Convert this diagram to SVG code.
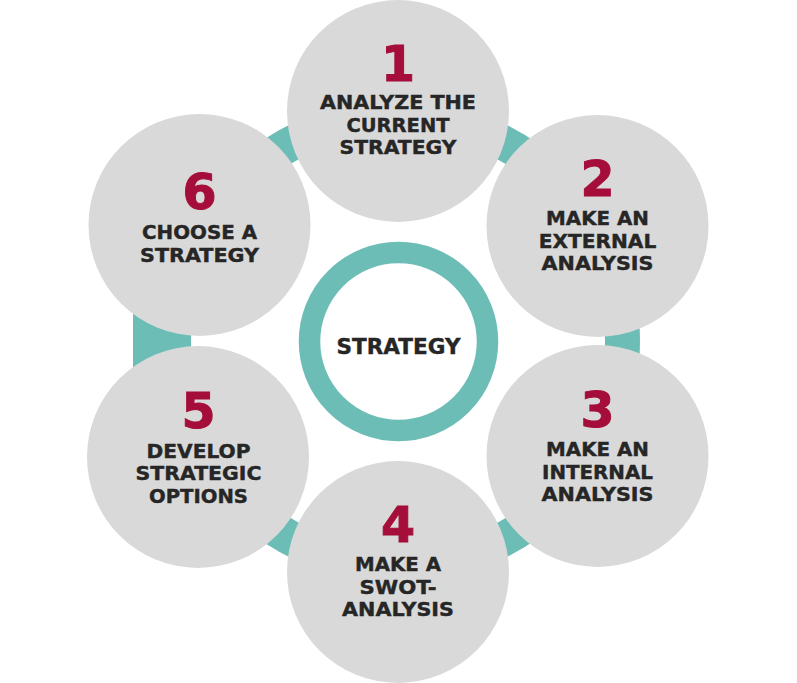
<svg xmlns="http://www.w3.org/2000/svg" width="797" height="683" viewBox="0 0 797 683">
<style>
.node{fill:#d9d9d9}
.num{font-family:"DejaVu Sans","Liberation Sans",sans-serif;font-weight:bold;font-size:49px;fill:#a50d3a;stroke:#a50d3a;stroke-width:1;text-anchor:middle}
.lbl{font-family:"DejaVu Sans","Liberation Sans",sans-serif;font-weight:bold;font-size:19px;fill:#262626;stroke:#262626;stroke-width:0.4;text-anchor:middle}
.ring{fill:none;stroke:#6dbdb7}
</style>
<rect width="797" height="683" fill="#ffffff"/>
<g id="connectors">
<circle class="ring" cx="398" cy="341" r="224.5" stroke-width="35"/>
<rect x="133" y="300" width="38" height="85" fill="#6dbdb7"/>
</g>
<g id="n1">
<circle class="node" cx="398" cy="111" r="111"/>
<text class="num" x="398" y="81">1</text>
<text class="lbl" x="398" y="109" textLength="156" lengthAdjust="spacingAndGlyphs">ANALYZE THE</text>
<text class="lbl" x="398" y="131.5" textLength="103" lengthAdjust="spacingAndGlyphs">CURRENT</text>
<text class="lbl" x="398" y="154" textLength="117" lengthAdjust="spacingAndGlyphs">STRATEGY</text>
</g>
<g id="n2">
<circle class="node" cx="597.5" cy="226" r="111"/>
<text class="num" x="597.5" y="196">2</text>
<text class="lbl" x="597.5" y="225" textLength="103" lengthAdjust="spacingAndGlyphs">MAKE AN</text>
<text class="lbl" x="597.5" y="247.5" textLength="117.5" lengthAdjust="spacingAndGlyphs">EXTERNAL</text>
<text class="lbl" x="597.5" y="270" textLength="112" lengthAdjust="spacingAndGlyphs">ANALYSIS</text>
</g>
<g id="n3">
<circle class="node" cx="597.5" cy="456" r="111"/>
<text class="num" x="597.5" y="427">3</text>
<text class="lbl" x="597.5" y="456" textLength="103" lengthAdjust="spacingAndGlyphs">MAKE AN</text>
<text class="lbl" x="597.5" y="478.5" textLength="111" lengthAdjust="spacingAndGlyphs">INTERNAL</text>
<text class="lbl" x="597.5" y="501" textLength="112" lengthAdjust="spacingAndGlyphs">ANALYSIS</text>
</g>
<g id="n4">
<circle class="node" cx="398" cy="572" r="111"/>
<text class="num" x="398" y="542">4</text>
<text class="lbl" x="398" y="571" textLength="86" lengthAdjust="spacingAndGlyphs">MAKE A</text>
<text class="lbl" x="398" y="593.5" textLength="77" lengthAdjust="spacingAndGlyphs">SWOT-</text>
<text class="lbl" x="398" y="616" textLength="112" lengthAdjust="spacingAndGlyphs">ANALYSIS</text>
</g>
<g id="n5">
<circle class="node" cx="198" cy="457" r="111"/>
<text class="num" x="198.5" y="428">5</text>
<text class="lbl" x="198.5" y="457.5" textLength="104" lengthAdjust="spacingAndGlyphs">DEVELOP</text>
<text class="lbl" x="198.5" y="480" textLength="126" lengthAdjust="spacingAndGlyphs">STRATEGIC</text>
<text class="lbl" x="198.5" y="502.5" textLength="99" lengthAdjust="spacingAndGlyphs">OPTIONS</text>
</g>
<g id="n6">
<circle class="node" cx="199.5" cy="225" r="111"/>
<text class="num" x="199.5" y="209">6</text>
<text class="lbl" x="199.5" y="239" textLength="115" lengthAdjust="spacingAndGlyphs">CHOOSE A</text>
<text class="lbl" x="199.5" y="261.5" textLength="119" lengthAdjust="spacingAndGlyphs">STRATEGY</text>
</g>
<g id="center">
<circle cx="398.5" cy="341.5" r="89" fill="#ffffff" stroke="#6dbdb7" stroke-width="21.5"/>
<text class="lbl" x="398.5" y="354" style="font-size:21.5px" textLength="124" lengthAdjust="spacingAndGlyphs">STRATEGY</text>
</g>
</svg>
